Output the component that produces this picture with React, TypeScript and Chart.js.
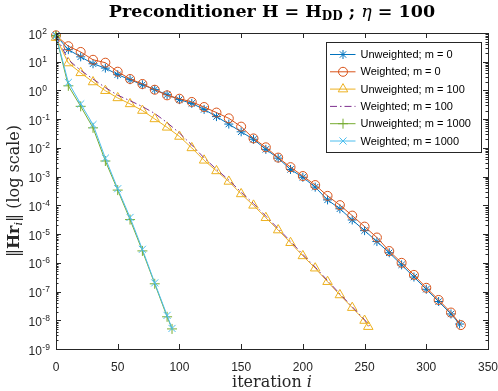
import React, { useEffect, useRef } from "react";
import { Chart, registerables } from "chart.js";
Chart.register(...registerables);

// ---------- data ----------
const itersUnweighted0 = [0, 10, 20, 30, 40, 50, 60, 70, 80, 90, 100, 110, 120, 130, 140, 150, 160, 170, 180, 190, 200, 210, 220, 230, 240, 250, 260, 270, 280, 290, 300, 310, 320, 327];
const valuesUnweighted0 = [83, 26.3, 14.8, 8.5, 6.0, 3.55, 2.37, 1.58, 1.07, 0.71, 0.48, 0.355, 0.219, 0.123, 0.0676, 0.0363, 0.02, 8.9e-3, 4.4e-3, 1.78e-3, 9.5e-4, 4.3e-4, 1.55e-4, 7.6e-5, 3.1e-5, 1.32e-5, 5.5e-6, 2.24e-6, 8.5e-7, 3.2e-7, 1.2e-7, 4.5e-8, 1.66e-8, 7.4e-9];

const itersWeighted0 = [0, 10, 20, 30, 40, 50, 60, 70, 80, 90, 100, 110, 120, 130, 140, 150, 160, 170, 180, 190, 200, 210, 220, 230, 240, 250, 260, 270, 280, 290, 300, 310, 320, 328];
const valuesWeighted0 = [83, 34.7, 21.9, 11.7, 9.25, 4.5, 2.51, 1.68, 1.06, 0.676, 0.516, 0.398, 0.265, 0.17, 0.107, 0.055, 0.0214, 0.0105, 4.6e-3, 2.14e-3, 1.05e-3, 5.1e-4, 2.14e-4, 1.02e-4, 4.4e-5, 1.82e-5, 7.6e-6, 2.57e-6, 1.0e-6, 3.8e-7, 1.35e-7, 5.1e-8, 1.86e-8, 6.8e-9];

const itersUnweighted100 = [0, 10, 20, 30, 40, 50, 60, 70, 80, 90, 100, 110, 120, 130, 140, 150, 160, 170, 180, 190, 200, 210, 220, 230, 240, 250, 253];
const valuesUnweighted100 = [69, 9.0, 4.1, 1.97, 0.98, 0.55, 0.34, 0.2, 0.102, 0.052, 0.025, 0.01, 3.7e-3, 1.58e-3, 6.8e-4, 2.5e-4, 1.0e-4, 3.7e-5, 1.38e-5, 5.0e-6, 1.74e-6, 6.5e-7, 2.2e-7, 7.6e-8, 2.75e-8, 9.8e-9, 6.0e-9];

const itersWeighted100 = [0, 10, 20, 30, 40, 50, 60, 70, 80, 90, 100, 110, 120, 130, 140, 150, 160, 170, 180, 190, 200, 210, 220, 230, 240, 250, 254];
const valuesWeighted100 = [80, 11.7, 5.0, 2.5, 1.26, 0.68, 0.44, 0.275, 0.158, 0.076, 0.033, 0.0126, 4.5e-3, 1.8e-3, 7.6e-4, 2.9e-4, 1.15e-4, 4.2e-5, 1.55e-5, 5.6e-6, 1.95e-6, 7.1e-7, 2.4e-7, 8.3e-8, 2.95e-8, 1.05e-8, 6.3e-9];

const itersUnweighted1000 = [0, 10, 20, 30, 40, 50, 60, 70, 80, 90, 94];
const valuesUnweighted1000 = [80, 1.45, 0.28, 0.05, 3.5e-3, 3.4e-4, 3.2e-5, 2.6e-6, 1.86e-7, 1.32e-8, 5.0e-9];

const itersWeighted1000 = [0, 10, 20, 30, 40, 50, 60, 70, 80, 90, 94];
const valuesWeighted1000 = [80, 1.9, 0.34, 0.065, 4.4e-3, 3.8e-4, 3.8e-5, 2.95e-6, 2.0e-7, 1.48e-8, 5.2e-9];

const seriesLabels = [
  "Unweighted; m = 0",
  "Weighted; m = 0",
  "Unweighted; m = 100",
  "Weighted; m = 100",
  "Unweighted; m = 1000",
  "Weighted; m = 1000",
];
const xTicks = [0, 50, 100, 150, 200, 250, 300, 350];
const yTickExponents = [2, 1, 0, -1, -2, -3, -4, -5, -6, -7, -8, -9];

// ---------- styles ----------
const colors = ["#0072BD", "#D95319", "#EDB120", "#7E2F8E", "#77AC30", "#4DBEEE"];
const markerStyles = ["star", "circle", "triangle", "none", "cross", "crossRot"];
const markerRadii = [4.5, 4.5, 5.5, 0, 5, 5];
const AX = "#262626";
const SANS = "'Liberation Sans', Arial, sans-serif";
const SERIF = "'DejaVu Serif', serif";

function toPoints(iters: number[], vals: number[]) {
  return iters.map((x, i) => ({ x, y: vals[i] }));
}

function drawMarker(ctx: CanvasRenderingContext2D, style: string, x: number, y: number, r: number) {
  ctx.beginPath();
  if (style === "circle") {
    ctx.arc(x, y, r, 0, Math.PI * 2);
  } else if (style === "triangle") {
    for (let k = 0; k < 3; k++) {
      const ang = -Math.PI / 2 + (k * 2 * Math.PI) / 3;
      const px = x + r * Math.cos(ang);
      const py = y + r * Math.sin(ang);
      if (k === 0) ctx.moveTo(px, py);
      else ctx.lineTo(px, py);
    }
    ctx.closePath();
  } else if (style === "cross" || style === "star") {
    ctx.moveTo(x - r, y); ctx.lineTo(x + r, y);
    ctx.moveTo(x, y - r); ctx.lineTo(x, y + r);
  }
  if (style === "crossRot" || style === "star") {
    const d = r * Math.SQRT1_2;
    ctx.moveTo(x - d, y - d); ctx.lineTo(x + d, y + d);
    ctx.moveTo(x - d, y + d); ctx.lineTo(x + d, y - d);
  }
  ctx.stroke();
}

type Part = { t: string; font: string; dy?: number };
function partsWidth(ctx: CanvasRenderingContext2D, parts: Part[]) {
  let w = 0;
  for (const p of parts) { ctx.font = p.font; w += ctx.measureText(p.t).width; }
  return w;
}
function drawParts(ctx: CanvasRenderingContext2D, parts: Part[], x: number, y: number) {
  let cx = x;
  for (const p of parts) {
    ctx.font = p.font;
    ctx.fillText(p.t, cx, y + (p.dy || 0));
    cx += ctx.measureText(p.t).width;
  }
}

const axesPlugin = {
  id: "matlabAxes",
  afterDatasetsDraw(chart: any) {
    const { ctx, chartArea: a, scales } = chart;
    const xs = scales.x, ys = scales.y;
    ctx.save();
    ctx.strokeStyle = AX;
    ctx.lineWidth = 1;
    ctx.beginPath();
    for (const t of xTicks) {
      const px = Math.round(xs.getPixelForValue(t)) + 0.5;
      ctx.moveTo(px, a.bottom); ctx.lineTo(px, a.bottom - 5);
      ctx.moveTo(px, a.top); ctx.lineTo(px, a.top + 5);
    }
    for (const e of yTickExponents) {
      const py = Math.round(ys.getPixelForValue(Math.pow(10, e))) + 0.5;
      ctx.moveTo(a.left, py); ctx.lineTo(a.left + 5, py);
      ctx.moveTo(a.right, py); ctx.lineTo(a.right - 5, py);
      if (e < 2) {
        for (let m = 2; m <= 9; m++) {
          const q = Math.round(ys.getPixelForValue(m * Math.pow(10, e))) + 0.5;
          ctx.moveTo(a.left, q); ctx.lineTo(a.left + 2.5, q);
          ctx.moveTo(a.right, q); ctx.lineTo(a.right - 2.5, q);
        }
      }
    }
    ctx.stroke();
    ctx.strokeRect(Math.round(a.left) + 0.5, Math.round(a.top) + 0.5, Math.round(a.right - a.left), Math.round(a.bottom - a.top));

    // tick labels
    ctx.fillStyle = AX;
    ctx.font = `12px ${SANS}`;
    ctx.textAlign = "center";
    ctx.textBaseline = "alphabetic";
    for (const t of xTicks) {
      ctx.fillText(String(t), xs.getPixelForValue(t), a.bottom + 22);
    }
    ctx.textAlign = "left";
    for (const e of yTickExponents) {
      const py = ys.getPixelForValue(Math.pow(10, e));
      ctx.font = `12px ${SANS}`;
      const baseX = a.left - 27.5;
      ctx.fillText("10", baseX, py + 5.5);
      const w10 = ctx.measureText("10").width;
      ctx.font = `8.5px ${SANS}`;
      ctx.fillText(String(e), baseX + w10 + 0.5, py + 0.5);
    }

    // legend
    const lx0 = a.right - 161.5, ly0 = a.top + 9.5, lw = 155, lh = 110;
    ctx.fillStyle = "#ffffff";
    ctx.fillRect(lx0, ly0, lw, lh);
    ctx.strokeStyle = AX;
    ctx.strokeRect(lx0, ly0, lw, lh);
    ctx.font = `11px ${SANS}`;
    ctx.textBaseline = "middle";
    for (let k = 0; k < seriesLabels.length; k++) {
      const ry = ly0 + 12 + k * 17.3;
      ctx.strokeStyle = colors[k];
      ctx.lineWidth = 1;
      ctx.setLineDash(k === 3 ? [7, 3, 1.5, 3] : []);
      ctx.beginPath();
      ctx.moveTo(lx0 + 3.5, ry); ctx.lineTo(lx0 + 29, ry);
      ctx.stroke();
      ctx.setLineDash([]);
      if (markerStyles[k] !== "none") drawMarker(ctx, markerStyles[k], lx0 + 16.5, ry, markerRadii[k]);
      ctx.fillStyle = "#000000";
      ctx.fillText(seriesLabels[k], lx0 + 34, ry + 0.5);
    }

    // title
    ctx.fillStyle = "#000000";
    ctx.textBaseline = "alphabetic";
    const tb = `bold 17.5px ${SERIF}`;
    const title: Part[] = [
      { t: "Preconditioner H = H", font: tb },
      { t: "DD", font: `bold 12px ${SERIF}`, dy: 3 },
      { t: " ; ", font: tb },
      { t: "\u03B7", font: `italic 17.5px ${SERIF}` },
      { t: " = 100", font: tb },
    ];
    const cxm = (a.left + a.right) / 2;
    const tw = partsWidth(ctx, title);
    drawParts(ctx, title, cxm - tw / 2, 17);

    // x label
    ctx.fillStyle = AX;
    const xl: Part[] = [
      { t: "iteration ", font: `16px ${SERIF}` },
      { t: "i", font: `italic 16px ${SERIF}` },
    ];
    const xw = partsWidth(ctx, xl);
    drawParts(ctx, xl, cxm - xw / 2, a.bottom + 38);

    // y label
    const yl: Part[] = [
      { t: "\u2016", font: `16px ${SERIF}` },
      { t: "Hr", font: `bold 16px ${SERIF}` },
      { t: "i", font: `italic 11px ${SERIF}`, dy: 3 },
      { t: "\u2016 (log scale)", font: `16px ${SERIF}` },
    ];
    ctx.translate(19, (a.top + a.bottom) / 2);
    ctx.rotate(-Math.PI / 2);
    const yw = partsWidth(ctx, yl);
    drawParts(ctx, yl, -yw / 2, 0);
    ctx.restore();
  },
};

export default function App() {
  const ref = useRef<HTMLCanvasElement>(null);
  useEffect(() => {
    if (!ref.current) return;
    const sets = [
      toPoints(itersUnweighted0, valuesUnweighted0),
      toPoints(itersWeighted0, valuesWeighted0),
      toPoints(itersUnweighted100, valuesUnweighted100),
      toPoints(itersWeighted100, valuesWeighted100),
      toPoints(itersUnweighted1000, valuesUnweighted1000),
      toPoints(itersWeighted1000, valuesWeighted1000),
    ];
    const chart = new Chart(ref.current, {
      type: "line",
      data: {
        datasets: sets.map((d, k) => ({
          label: seriesLabels[k],
          data: d,
          borderColor: colors[k],
          backgroundColor: "rgba(0,0,0,0)",
          borderWidth: 1,
          borderDash: k === 3 ? [7, 3, 1.5, 3] : [],
          pointStyle: markerStyles[k] === "none" ? "circle" : (markerStyles[k] as any),
          pointRadius: markerRadii[k],
          pointBorderColor: colors[k],
          pointBackgroundColor: "rgba(0,0,0,0)",
          pointBorderWidth: 1,
          fill: false,
          tension: 0,
          clip: false as any,
          order: 6 - k,
        })),
      },
      options: {
        animation: false,
        responsive: false,
        layout: { padding: { left: 56, right: 10, top: 33, bottom: 42 } },
        plugins: {
          legend: { display: false },
          title: { display: false },
          tooltip: { enabled: false },
        },
        scales: {
          x: { type: "linear", min: 0, max: 350, display: false },
          y: { type: "logarithmic", min: 1e-9, max: 1e2, display: false },
        },
      },
      plugins: [axesPlugin],
    });
    return () => chart.destroy();
  }, []);
  return (
    <div style={{ position: "fixed", left: 0, top: 0, width: 498, height: 391, background: "#fff" }}>
      <canvas ref={ref} width={498} height={391} style={{ width: 498, height: 391, display: "block" }} />
    </div>
  );
}
